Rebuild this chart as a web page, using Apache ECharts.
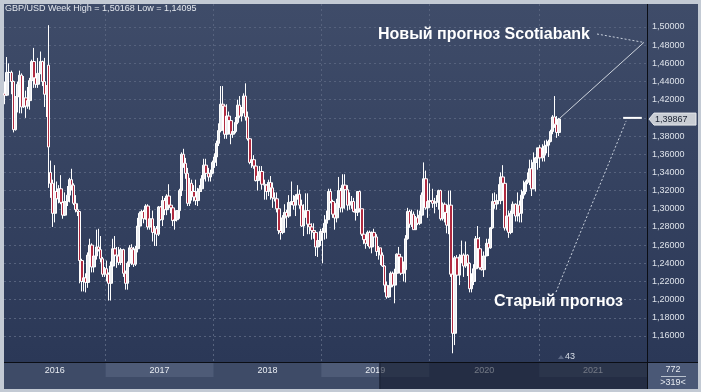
<!DOCTYPE html>
<html><head><meta charset="utf-8">
<script src="https://cdn.jsdelivr.net/npm/echarts@6/dist/echarts.min.js"></script>
<style>html,body{margin:0;padding:0;background:#c3cad4}#c{width:701px;height:392px}</style>
</head><body><div id="c"></div>
<script>
// ---------- DATA ----------
const startWeek = '2016-01-25';
const axisWeeks = 310;
const opens = [
 1.427,1.425,1.450,1.450,1.440,1.387,1.423,1.437,1.447,1.412,1.422,1.413,1.419,1.441,1.462,1.444,1.437,1.449,1.462,1.440,1.426,1.458,1.340,1.328,1.295,1.319,1.311,1.322,1.307,1.293,1.308,1.315,1.332,1.326,1.306,1.299,1.297,1.243,1.220,1.224,1.219,1.249,1.260,1.236,1.248,1.258,1.255,1.245,1.228,
 1.234,1.228,1.218,1.237,1.256,1.249,1.248,1.241,1.255,1.229,1.218,1.240,1.257,1.255,1.239,1.256,1.281,1.295,1.297,1.289,1.303,1.280,1.289,1.274,1.278,1.272,1.302,1.288,1.309,1.299,1.314,1.304,1.301,1.287,1.288,1.298,1.320,1.360,1.350,1.339,1.306,1.328,1.319,1.313,1.309,1.319,1.322,1.333,1.348,1.339,1.335,1.339,
 1.351,1.357,1.372,1.386,1.415,1.413,1.382,1.402,1.397,1.382,1.385,1.395,1.414,1.402,1.409,1.424,1.401,1.377,1.351,1.354,1.347,1.331,1.336,1.341,1.327,1.326,1.319,1.329,1.323,1.312,1.311,1.300,1.276,1.274,1.290,1.296,1.292,1.307,1.308,1.304,1.314,1.316,1.304,1.281,1.297,1.298,1.283,1.280,1.276,1.274,1.258,1.265,
 1.275,1.274,1.284,1.288,1.319,1.308,1.294,1.290,1.306,1.320,1.301,1.326,1.321,1.304,1.305,1.308,1.297,1.296,1.319,1.300,1.272,1.266,1.262,1.274,1.258,1.274,1.269,1.253,1.257,1.249,1.237,1.216,1.203,1.214,1.229,1.216,1.229,1.250,1.247,1.229,1.233,1.267,1.297,1.283,1.294,1.277,1.290,1.284,1.293,1.315,1.333,1.301,
 1.308,1.309,1.306,1.307,1.308,1.320,1.289,1.305,1.296,1.282,1.304,1.228,1.163,1.246,1.227,1.247,1.249,1.237,1.249,1.240,1.212,1.220,1.234,1.267,1.256,1.235,1.233,1.248,1.262,1.257,1.279,1.308,1.305,1.309,1.309,1.335,1.328,1.279,1.292,1.274,1.295,1.305,1.292,1.304,1.295,1.315,1.319,1.329,1.332,1.344,1.322,1.351,1.356,
 1.367,1.356,1.359,1.369,1.370,1.374,1.385,1.401,1.393,1.384
];
const highs = [
 1.440,1.467,1.460,1.452,1.441,1.424,1.440,1.452,1.449,1.446,1.430,1.434,1.444,1.464,1.477,1.448,1.466,1.473,1.463,1.466,1.436,1.502,1.353,1.332,1.348,1.330,1.326,1.337,1.310,1.318,1.325,1.334,1.344,1.328,1.315,1.306,1.297,1.245,1.234,1.229,1.252,1.267,1.262,1.250,1.277,1.278,1.270,1.247,1.236,
 1.243,1.230,1.242,1.267,1.270,1.258,1.258,1.257,1.256,1.232,1.242,1.260,1.261,1.258,1.259,1.290,1.297,1.299,1.299,1.305,1.305,1.293,1.298,1.281,1.281,1.303,1.303,1.314,1.312,1.316,1.327,1.306,1.302,1.293,1.298,1.322,1.362,1.366,1.356,1.345,1.334,1.332,1.326,1.332,1.323,1.326,1.337,1.355,1.355,1.345,1.343,1.353,
 1.361,1.375,1.394,1.435,1.435,1.414,1.415,1.407,1.400,1.394,1.401,1.420,1.424,1.412,1.427,1.438,1.407,1.378,1.362,1.359,1.347,1.337,1.347,1.347,1.332,1.327,1.332,1.336,1.329,1.318,1.318,1.300,1.278,1.293,1.305,1.299,1.315,1.330,1.315,1.316,1.326,1.321,1.310,1.305,1.317,1.317,1.293,1.284,1.284,1.276,1.270,1.278,
 1.279,1.293,1.298,1.322,1.322,1.310,1.296,1.311,1.335,1.323,1.338,1.338,1.326,1.318,1.314,1.312,1.300,1.319,1.320,1.300,1.281,1.269,1.276,1.276,1.275,1.278,1.272,1.259,1.257,1.252,1.238,1.220,1.216,1.231,1.231,1.234,1.251,1.258,1.250,1.242,1.271,1.301,1.299,1.299,1.297,1.292,1.299,1.298,1.318,1.351,1.342,1.311,
 1.328,1.322,1.312,1.315,1.321,1.321,1.307,1.307,1.301,1.320,1.320,1.248,1.248,1.249,1.250,1.265,1.251,1.264,1.250,1.241,1.229,1.239,1.270,1.281,1.269,1.254,1.253,1.267,1.267,1.280,1.317,1.318,1.316,1.327,1.340,1.348,1.335,1.301,1.298,1.298,1.308,1.306,1.318,1.309,1.321,1.331,1.331,1.340,1.354,1.354,1.362,1.357,1.367,
 1.370,1.371,1.375,1.376,1.376,1.387,1.403,1.424,1.402,1.400
];
const lows = [
 1.415,1.424,1.434,1.426,1.384,1.386,1.406,1.405,1.405,1.411,1.400,1.410,1.409,1.433,1.433,1.433,1.433,1.448,1.435,1.412,1.401,1.323,1.312,1.280,1.285,1.305,1.306,1.305,1.289,1.292,1.303,1.307,1.320,1.304,1.296,1.292,1.218,1.209,1.209,1.208,1.213,1.235,1.230,1.230,1.244,1.253,1.241,1.225,1.225,
 1.220,1.199,1.199,1.237,1.241,1.235,1.238,1.238,1.225,1.211,1.211,1.236,1.238,1.236,1.237,1.252,1.278,1.284,1.284,1.288,1.277,1.277,1.264,1.259,1.259,1.270,1.287,1.281,1.293,1.293,1.303,1.295,1.281,1.277,1.286,1.289,1.314,1.345,1.333,1.303,1.303,1.309,1.308,1.304,1.303,1.312,1.319,1.330,1.330,1.330,1.330,1.338,
 1.345,1.347,1.369,1.384,1.406,1.377,1.377,1.386,1.371,1.378,1.383,1.393,1.400,1.396,1.405,1.397,1.375,1.349,1.345,1.344,1.330,1.320,1.333,1.321,1.310,1.310,1.314,1.310,1.301,1.308,1.296,1.272,1.266,1.272,1.279,1.279,1.290,1.304,1.299,1.292,1.310,1.300,1.280,1.270,1.290,1.272,1.272,1.266,1.267,1.248,1.247,1.259,
 1.240,1.266,1.267,1.288,1.306,1.290,1.277,1.285,1.305,1.296,1.296,1.300,1.298,1.299,1.300,1.296,1.287,1.292,1.296,1.270,1.261,1.256,1.259,1.256,1.251,1.263,1.248,1.244,1.238,1.236,1.208,1.201,1.202,1.207,1.216,1.196,1.223,1.240,1.227,1.220,1.219,1.266,1.279,1.280,1.277,1.277,1.282,1.282,1.292,1.307,1.299,1.290,
 1.306,1.301,1.295,1.302,1.299,1.287,1.287,1.285,1.273,1.272,1.225,1.141,1.150,1.217,1.216,1.240,1.225,1.235,1.226,1.208,1.208,1.216,1.234,1.248,1.233,1.232,1.225,1.248,1.248,1.256,1.278,1.300,1.299,1.305,1.305,1.315,1.276,1.276,1.268,1.272,1.285,1.286,1.286,1.285,1.285,1.311,1.316,1.327,1.326,1.314,1.322,1.319,1.343,
 1.345,1.352,1.352,1.361,1.357,1.373,1.382,1.389,1.378,1.380
];
const closes = [
 1.425,1.450,1.450,1.440,1.387,1.423,1.437,1.447,1.412,1.422,1.413,1.419,1.441,1.462,1.444,1.437,1.449,1.462,1.440,1.426,1.435,1.368,1.328,1.295,1.319,1.311,1.322,1.307,1.293,1.308,1.315,1.332,1.326,1.306,1.299,1.297,1.243,1.220,1.224,1.219,1.249,1.260,1.236,1.248,1.258,1.255,1.245,1.228,1.234,
 1.228,1.218,1.237,1.256,1.249,1.248,1.241,1.255,1.229,1.218,1.240,1.257,1.255,1.239,1.256,1.281,1.295,1.297,1.289,1.303,1.280,1.289,1.274,1.278,1.272,1.302,1.288,1.309,1.299,1.314,1.304,1.301,1.287,1.288,1.298,1.320,1.360,1.350,1.339,1.306,1.328,1.319,1.313,1.309,1.319,1.322,1.333,1.348,1.339,1.335,1.339,1.351,
 1.357,1.372,1.386,1.415,1.413,1.382,1.402,1.397,1.382,1.385,1.395,1.414,1.402,1.409,1.424,1.401,1.377,1.351,1.354,1.347,1.331,1.336,1.341,1.327,1.326,1.319,1.329,1.323,1.312,1.311,1.300,1.276,1.274,1.290,1.296,1.292,1.307,1.308,1.304,1.314,1.316,1.304,1.281,1.297,1.298,1.283,1.280,1.276,1.274,1.258,1.265,1.275,
 1.274,1.284,1.288,1.319,1.308,1.294,1.290,1.306,1.320,1.301,1.326,1.321,1.304,1.305,1.308,1.297,1.296,1.319,1.300,1.272,1.266,1.262,1.274,1.258,1.274,1.269,1.253,1.257,1.249,1.237,1.216,1.203,1.214,1.229,1.216,1.229,1.250,1.247,1.229,1.233,1.267,1.297,1.283,1.294,1.277,1.290,1.284,1.293,1.315,1.333,1.301,1.308,
 1.309,1.306,1.307,1.308,1.320,1.289,1.305,1.296,1.282,1.304,1.228,1.163,1.246,1.227,1.247,1.249,1.237,1.249,1.240,1.212,1.220,1.234,1.267,1.256,1.235,1.233,1.248,1.262,1.257,1.279,1.308,1.305,1.309,1.309,1.335,1.328,1.279,1.292,1.274,1.295,1.305,1.292,1.304,1.295,1.315,1.319,1.329,1.332,1.344,1.322,1.351,1.356,1.367,
 1.356,1.359,1.369,1.370,1.374,1.385,1.401,1.393,1.384,1.39867
];
const yTicks = [1.16,1.18,1.20,1.22,1.24,1.26,1.28,1.30,1.32,1.34,1.36,1.38,1.40,1.42,1.44,1.46,1.48,1.50];
const yMin = 1.1314, yMax = 1.5253;
const yearLabels = ['2016','2017','2018','2019','2020','2021'];
const yearStartIdx = [0,49,101,153,205,258];
const newForecastIdx = [267,308];
const newForecastVal = [1.39867,1.483];
const oldForecastIdx = [298,307];
const oldForecastVal = [1.40,1.40];
const lastPrice = 1.39867;
const weekHigh = 1.50168, weekLow = 1.14095;
const volumeLabel = '43';
const barsTotal = '772', barsShown = '>319<';
const scrollStartIdx = 181;

// ---------- CHART ----------
const FONT = '"Liberation Sans", Arial, sans-serif';
const fmt = v => v.toFixed(5).replace('.', ',');
const cats = [];
(function(){ const d0 = Date.parse(startWeek + 'T00:00:00Z');
  for (let i = 0; i < axisWeeks; i++) cats.push(new Date(d0 + i*7*864e5).toISOString().slice(0,10)); })();
const candles = opens.map((o,i) => [o, closes[i], lows[i], highs[i]]);

const chart = echarts.init(document.getElementById('c'), null, {renderer:'canvas'});
const grad = () => new echarts.graphic.LinearGradient(0,0,0,1,[{offset:0,color:'#3f4c69'},{offset:1,color:'#2b3857'}]);
const gridLine = {color:'#56627d', type:[2,3], width:1};

chart.setOption({
  animation:false,
  backgroundColor:'#c3cad4',
  grid:{left:4, top:4, width:643, height:358, show:true, backgroundColor:grad(), borderWidth:0},
  xAxis:{type:'category', data:cats, boundaryGap:true,
    axisLine:{show:false}, axisTick:{show:false}, axisLabel:{show:false},
    splitLine:{show:true, interval:(i)=>yearStartIdx.indexOf(i)>0, lineStyle:gridLine}},
  yAxis:{type:'value', position:'right', min:yMin, max:yMax,
    axisLine:{show:false}, axisTick:{show:false, customValues:yTicks},
    axisLabel:{customValues:yTicks, formatter:fmt, color:'#dde2ea', fontSize:9, fontFamily:FONT, margin:5},
    splitLine:{show:true, lineStyle:gridLine}},
  series:[
    {type:'candlestick', data:candles, barWidth:3, z:3, silent:true,
     itemStyle:{color:'#eef0f3', color0:'#b02a40', borderColor:'#ffffff', borderColor0:'#ffffff', borderWidth:1}},
    {type:'line', data:newForecastIdx.map((x,i)=>[x,newForecastVal[i]]), symbol:'none', silent:true, z:6,
     lineStyle:{color:'#cdd3dc', width:1}},
    {type:'line', data:oldForecastIdx.map((x,i)=>[x,oldForecastVal[i]]), symbol:'none', silent:true, z:6,
     lineStyle:{color:'#ffffff', width:2}}
  ]
});

const px = (i, v) => chart.convertToPixel({gridIndex:0}, [i, v]);
const band = 643 / axisWeeks;
const leftEdge = i => px(i, yTicks[0])[0] - band/2;

const G = [];
// right panel & bottom panel
G.push({type:'rect', z:-5, shape:{x:648,y:4,width:50,height:358}, style:{fill:grad()}});
G.push({type:'rect', z:-5, shape:{x:4,y:363,width:644,height:26}, style:{fill:'#3e4b67'}});
G.push({type:'rect', z:-4, shape:{x:648,y:363,width:50,height:26}, style:{fill:'#4a5876'}});
// year band
for (let k = 0; k < yearLabels.length; k++) {
  const x0 = k === 0 ? 4 : leftEdge(yearStartIdx[k]);
  const x1 = k < yearLabels.length-1 ? leftEdge(yearStartIdx[k+1]) : 647;
  if (k % 2 === 1) G.push({type:'rect', z:-3, shape:{x:x0,y:363,width:x1-x0,height:14}, style:{fill:'#4e5b77'}});
  G.push({type:'text', z:10, x:(x0+x1)/2, y:370.5, style:{text:yearLabels[k], fill:'#e8ecf2', font:'9px '+FONT, textAlign:'center', textVerticalAlign:'middle'}});
}
// scroll thumb overlay
const tx = leftEdge(scrollStartIdx);
G.push({type:'rect', z:30, shape:{x:tx,y:363,width:647-tx,height:26}, style:{fill:'rgba(14,22,40,0.55)'}});
G.push({type:'line', z:31, shape:{x1:tx+0.5,y1:363,x2:tx+0.5,y2:389}, style:{stroke:'#1a2236', lineWidth:1}});
// separators
G.push({type:'line', z:40, shape:{x1:647.5,y1:4,x2:647.5,y2:389}, style:{stroke:'#0b0e15', lineWidth:1}});
G.push({type:'line', z:40, shape:{x1:4,y1:362.5,x2:698,y2:362.5}, style:{stroke:'#0b0e15', lineWidth:1}});
// bar count cell
G.push({type:'text', z:41, x:673, y:369.5, style:{text:barsTotal, fill:'#e6eaf0', font:'9px '+FONT, textAlign:'center', textVerticalAlign:'middle'}});
G.push({type:'line', z:41, shape:{x1:661,y1:376.5,x2:686,y2:376.5}, style:{stroke:'#b9c2cf', lineWidth:1}});
G.push({type:'text', z:41, x:673, y:383, style:{text:barsShown, fill:'#e6eaf0', font:'9px '+FONT, textAlign:'center', textVerticalAlign:'middle'}});
// title
G.push({type:'text', z:41, x:5, y:9, style:{text:'GBP/USD Week High = '+fmt(weekHigh)+' Low = '+fmt(weekLow), fill:'#e4e8ee', font:'9px '+FONT, textVerticalAlign:'middle'}});
// annotations
const pNew = px(newForecastIdx[1], newForecastVal[1]);
const pOld = px(oldForecastIdx[0], oldForecastVal[0]);
G.push({type:'text', z:50, x:378, y:35, style:{text:'Новый прогноз Scotiabank', fill:'#ffffff', font:'bold 16px '+FONT, textVerticalAlign:'middle'}});
G.push({type:'line', z:50, shape:{x1:597,y1:34,x2:pNew[0],y2:pNew[1]}, style:{stroke:'#c8d0dc', lineWidth:1, lineDash:[2,2]}});
G.push({type:'text', z:50, x:494, y:302, style:{text:'Старый прогноз', fill:'#ffffff', font:'bold 16px '+FONT, textVerticalAlign:'middle'}});
G.push({type:'line', z:50, shape:{x1:556,y1:292,x2:pOld[0]+3,y2:pOld[1]+3}, style:{stroke:'#c8d0dc', lineWidth:1, lineDash:[2,2]}});
// price tag
const yp = px(0, lastPrice)[1];
G.push({type:'polygon', z:45, shape:{points:[[649,yp],[654,yp-6],[696,yp-6],[696,yp+6],[654,yp+6]]}, style:{fill:'#c9cdd4', stroke:'#e6e8ec', lineWidth:1}});
G.push({type:'text', z:46, x:655, y:yp, style:{text:fmt(lastPrice), fill:'#1a2232', font:'9px '+FONT, textVerticalAlign:'middle'}});
// volume marker
G.push({type:'polygon', z:45, shape:{points:[[558,359],[561,355],[564,359]]}, style:{fill:'#5d6985'}});
G.push({type:'text', z:46, x:565, y:357, style:{text:volumeLabel, fill:'#d8dee7', font:'9px '+FONT, textVerticalAlign:'middle'}});

chart.setOption({graphic:{elements:G}});
</script>
</body></html>
